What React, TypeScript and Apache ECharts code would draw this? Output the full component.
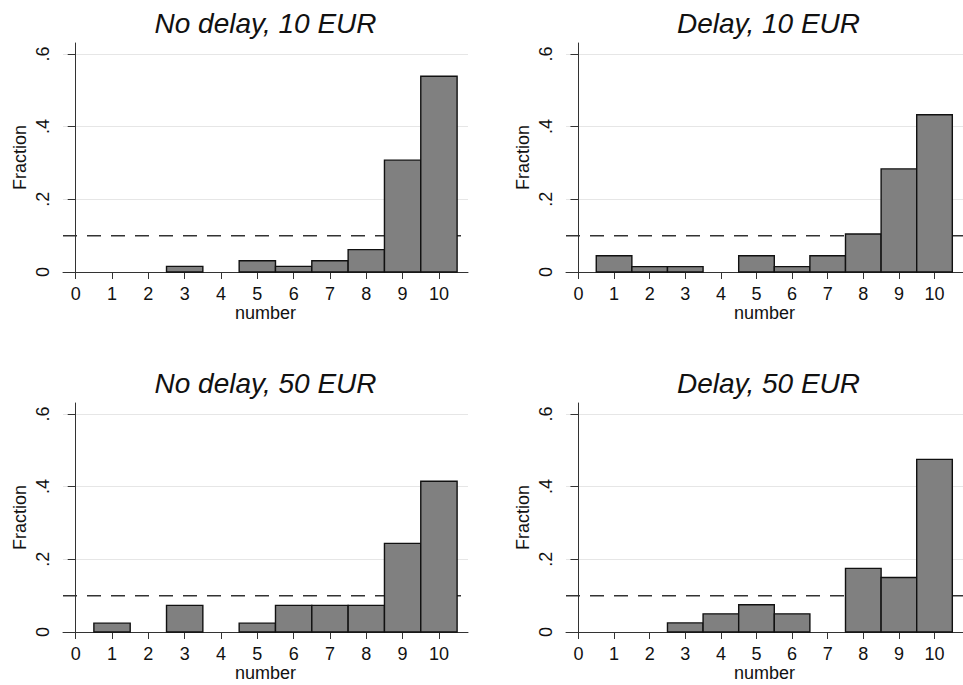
import React, { useEffect, useRef } from "react";
import * as echarts from "echarts";

const numbers = [0, 1, 2, 3, 4, 5, 6, 7, 8, 9, 10];
const panelTitles = ["No delay, 10 EUR", "Delay, 10 EUR", "No delay, 50 EUR", "Delay, 50 EUR"];
const noDelay10 = [0, 0, 0, 0.0154, 0, 0.0308, 0.0154, 0.0308, 0.0615, 0.3077, 0.5385];
const delay10 = [0, 0.0448, 0.0149, 0.0149, 0, 0.0448, 0.0149, 0.0448, 0.1045, 0.2836, 0.4328];
const noDelay50 = [0, 0.0244, 0, 0.0732, 0, 0.0244, 0.0732, 0.0732, 0.0732, 0.2439, 0.4146];
const delay50 = [0, 0, 0, 0.025, 0.05, 0.075, 0.05, 0, 0.175, 0.15, 0.475];
const yTicks = [0, 0.2, 0.4, 0.6];
const chanceLevel = 0.1;

const X_MIN = -0.35;
const X_MAX = 10.8;
const Y_MAX = 0.63;

const FONT = "Liberation Sans, Arial, sans-serif";
const AXIS_COLOR = "#333333";
const TEXT_COLOR = "#111111";

const panelValues = [noDelay10, delay10, noDelay50, delay50];
const gridPos = [
  { left: 63, top: 43 },
  { left: 566, top: 43 },
  { left: 63, top: 403 },
  { left: 566, top: 403 },
];
const GRID_W = 405;
const GRID_H = 229;

export default function App() {
  const ref = useRef<HTMLDivElement>(null);

  useEffect(() => {
    if (!ref.current) return;
    const chart = echarts.init(ref.current, null, { renderer: "svg" });

    const grids = gridPos.map((g) => ({ left: g.left, top: g.top, width: GRID_W, height: GRID_H, containLabel: false }));

    const xAxes = gridPos.map((_, i) => ({
      type: "value",
      gridIndex: i,
      min: X_MIN,
      max: X_MAX,
      axisLine: { show: true, onZero: false, lineStyle: { color: AXIS_COLOR, width: 1 } },
      axisTick: { show: true, length: 7, customValues: numbers, lineStyle: { color: AXIS_COLOR, width: 1 } },
      axisLabel: {
        customValues: numbers,
        margin: 13,
        fontSize: 18,
        color: TEXT_COLOR,
        fontFamily: FONT,
      },
      splitLine: { show: false },
      name: "number",
      nameLocation: "middle",
      nameGap: 32,
      nameTextStyle: { fontSize: 18, color: TEXT_COLOR, fontFamily: FONT },
    }));

    const yAxes = gridPos.map((_, i) => ({
      type: "value",
      gridIndex: i,
      min: 0,
      max: Y_MAX,
      axisLine: { show: true, lineStyle: { color: AXIS_COLOR, width: 1 } },
      axisTick: { show: true, length: 8, customValues: yTicks, lineStyle: { color: AXIS_COLOR, width: 1 } },
      axisLabel: {
        customValues: yTicks,
        rotate: 90,
        margin: 11,
        fontSize: 18,
        color: TEXT_COLOR,
        fontFamily: FONT,
        formatter: (v: number) => (v === 0 ? "0" : String(v).replace(/^0\./, ".")),
      },
      splitLine: { show: true, lineStyle: { color: "#e6e6e6", width: 1 } },
      name: "Fraction",
      nameLocation: "middle",
      nameGap: 34,
      nameRotate: 90,
      nameTextStyle: { fontSize: 18, color: TEXT_COLOR, fontFamily: FONT },
    }));

    const series: any[] = [];
    panelValues.forEach((vals, i) => {
      series.push({
        type: "line",
        xAxisIndex: i,
        yAxisIndex: i,
        z: 1,
        silent: true,
        symbol: "none",
        data: [
          [X_MIN, chanceLevel],
          [X_MAX, chanceLevel],
        ],
        lineStyle: { type: [14, 10], color: AXIS_COLOR, width: 1.5 },
      });
      series.push({
        type: "custom",
        xAxisIndex: i,
        yAxisIndex: i,
        z: 2,
        encode: { x: 0, y: 1 },
        data: numbers.map((n, k) => [n, vals[k]]),
        renderItem: (_params: any, api: any) => {
          const x = api.value(0);
          const y = api.value(1);
          if (!y) return null;
          const p0 = api.coord([x - 0.5, y]);
          const p1 = api.coord([x + 0.5, 0]);
          return {
            type: "rect",
            shape: { x: p0[0], y: p0[1], width: p1[0] - p0[0], height: p1[1] - p0[1] },
            style: { fill: "#808080", stroke: "#111111", lineWidth: 1.4 },
          };
        },
      });
    });

    const graphic = gridPos.map((g, i) => ({
      type: "text",
      x: g.left + GRID_W / 2,
      y: g.top - 20,
      style: {
        text: panelTitles[i],
        fontSize: 28,
        fontStyle: "italic",
        fontFamily: FONT,
        fill: "#111111",
        align: "center",
        verticalAlign: "middle",
      },
    }));

    chart.setOption({
      animation: false,
      backgroundColor: "#ffffff",
      grid: grids,
      xAxis: xAxes,
      yAxis: yAxes,
      series,
      graphic,
    });

    return () => chart.dispose();
  }, []);

  return (
    <div
      ref={ref}
      style={{ position: "absolute", left: 0, top: 0, width: 963, height: 685, background: "#ffffff" }}
    />
  );
}
